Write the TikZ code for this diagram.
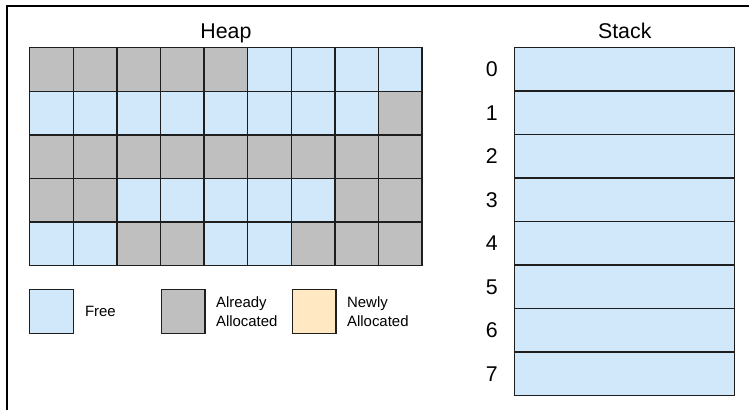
\documentclass[tikz,border=0pt]{standalone}
\usepackage{fontspec}
\setmainfont{Liberation Sans}
\usetikzlibrary{positioning}

\definecolor{freecol}{RGB}{208,232,250}
\definecolor{usedcol}{RGB}{191,191,191}
\definecolor{newcol}{RGB}{255,232,194}
\definecolor{linecol}{RGB}{30,30,30}

\begin{document}
\begin{tikzpicture}[x=0.75pt,y=-0.75pt,
  cell/.style={draw=linecol, line width=1.1pt, minimum size=32.7pt, inner sep=0pt, anchor=north west},
  cF/.style={fill=freecol},
  cU/.style={fill=usedcol},
  slot/.style={draw=linecol, line width=1.1pt, fill=freecol, minimum width=165pt, minimum height=32.6pt, inner sep=0pt, anchor=north west},
  title/.style={font=\fontsize{16}{19}\selectfont, inner sep=0pt, text depth=0pt},
  legtext/.style={font=\fontsize{11.2}{14.5}\selectfont, inner sep=0pt, align=left, anchor=west}]
  \useasboundingbox (0,0) rectangle (749,410);

  % frame (top and left only)
  \draw[line width=1.9pt] (7,410) -- (7,6) -- (749,6);

  % heap: 9 x 5 cells, F = free, U = already allocated
  \foreach \r/\cells in {0/{U,U,U,U,U,F,F,F,F},
                         1/{F,F,F,F,F,F,F,F,U},
                         2/{U,U,U,U,U,U,U,U,U},
                         3/{U,U,F,F,F,F,F,U,U},
                         4/{F,F,U,U,F,F,U,U,U}}
    \foreach \c [count=\i from 0] in \cells
      \node[cell, c\c] (h-\r-\i) at (29+\i*43.6, 47+\r*43.6) {};
  \node[title, above=6pt of h-0-4] (heap) {Heap};

  % legend
  \node[cell, cF] (leg-free) at (29,289) {};
  \node[legtext, right=8pt of leg-free] (leg-free-txt) {Free};
  \node[cell, cU, right=65pt of leg-free] (leg-used) {};
  \node[legtext, right=7.5pt of leg-used] (leg-used-txt) {Already\\Allocated};
  \node[cell, fill=newcol, right=64.5pt of leg-used] (leg-new) {};
  \node[legtext, right=7.5pt of leg-new] (leg-new-txt) {Newly\\Allocated};

  % stack: 8 slots
  \foreach \k in {0,...,7} {
    \node[slot] (s-\k) at (514, 47+\k*43.5) {};
    \node[title, left=12pt of s-\k] (n-\k) {\k};
  }
  \node[title, above=6pt of s-0] (stack) {Stack};
\end{tikzpicture}
\end{document}
